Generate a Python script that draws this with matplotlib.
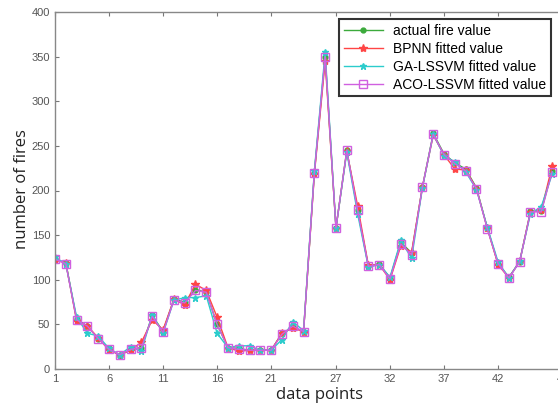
import matplotlib
matplotlib.use("Agg")
import matplotlib.pyplot as plt

x_points = list(range(1, 48))
actual = [123, 119, 56, 48, 34, 23, 15, 22, 24, 60, 42, 78, 75, 89, 86, 50, 24, 23, 21, 21,
          21, 40, 47, 42, 220, 350, 158, 245, 178, 115, 118, 102, 142, 130, 204, 264, 241, 231,
          224, 203, 158, 118, 103, 120, 177, 177, 222]
bpnn = [122, 119, 54, 48, 35, 21, 16, 21, 30, 55, 44, 78, 72, 95, 88, 58, 24, 20, 21, 21,
        21, 40, 46, 42, 218, 345, 158, 244, 183, 116, 117, 100, 138, 131, 204, 262, 240, 224,
        223, 202, 158, 117, 102, 121, 176, 178, 227]
ga_lssvm = [125, 118, 58, 40, 37, 23, 16, 25, 20, 61, 40, 77, 80, 80, 82, 40, 24, 26, 26, 21,
            21, 33, 53, 43, 222, 355, 158, 243, 174, 114, 117, 103, 144, 124, 203, 263, 239, 232,
            221, 201, 159, 120, 102, 121, 174, 182, 218]
aco_lssvm = [123, 118, 55, 48, 34, 22, 16, 22, 24, 59, 41, 77, 74, 88, 86, 50, 24, 22, 21, 21,
             21, 39, 48, 42, 220, 350, 158, 245, 178, 115, 117, 101, 140, 128, 204, 263, 240, 230,
             222, 202, 157, 118, 102, 120, 176, 176, 221]
series_labels = ["actual fire value", "BPNN fitted value", "GA-LSSVM fitted value",
                 "ACO-LSSVM fitted value"]
xtick_values = [1, 6, 11, 16, 21, 27, 32, 37, 42, 48]
ytick_values = [0, 50, 100, 150, 200, 250, 300, 350, 400]

W, H = 558, 405
fig = plt.figure(figsize=(W/100, H/100), dpi=100)
# axes box runs slightly past the right edge of the picture (cropped like the reference)
ax = fig.add_axes([55/W, 36/H, 509/W, 357/H])

ax.plot(x_points, actual, color="#3caa3c", lw=1.0, marker="o", ms=3.5,
        mfc="#3caa3c", mec="#3caa3c", label=series_labels[0])
ax.plot(x_points, bpnn, color="#ff4545", lw=1.0, marker="*", ms=6,
        mfc="#ff4545", mec="#ff4545", label=series_labels[1])
ax.plot(x_points, ga_lssvm, color="#2ccccc", lw=1.0, marker="*", ms=4.5,
        mfc="#2ccccc", mec="#2ccccc", label=series_labels[2])
ax.plot(x_points, aco_lssvm, color="#d060e0", lw=1.0, marker="s", ms=6,
        mfc="none", mec="#d060e0", mew=1.0, label=series_labels[3])

ax.set_xlim(1, 48.1)
ax.set_ylim(0, 400)
ax.set_xticks(xtick_values)
ax.set_yticks(ytick_values)
ax.tick_params(direction="in", top=True, right=True, length=3, width=0.8,
               colors="#777777", labelcolor="#555555", labelsize=8)
for lab in ax.get_xticklabels() + ax.get_yticklabels():
    lab.set_family("Liberation Sans")
for s in ax.spines.values():
    s.set_color("#888888")
    s.set_linewidth(1.0)

ax.set_xlabel("data points", fontsize=12, family="Open Sans", color="#222222")
ax.set_ylabel("number of fires", fontsize=12, family="Open Sans", color="#222222")
ax.xaxis.set_label_coords((319 - 55) / 509, -(395 - 369) / 357, transform=ax.transAxes)
ax.xaxis.label.set_va("center")
ax.yaxis.set_label_coords(-(55 - 22) / 509, (369 - 189) / 357, transform=ax.transAxes)
ax.yaxis.label.set_va("center")

leg = ax.legend(loc="upper left", bbox_to_anchor=(339/W, 1 - 19/H),
                bbox_transform=fig.transFigure, borderaxespad=0, fancybox=False,
                frameon=True, edgecolor="black", labelspacing=0.28,
                handlelength=2.8, handletextpad=0.75, borderpad=0.35,
                prop={"family": "Liberation Sans", "size": 10})
leg.get_frame().set_linewidth(1.5)

fig.savefig("out.png", dpi=100)
